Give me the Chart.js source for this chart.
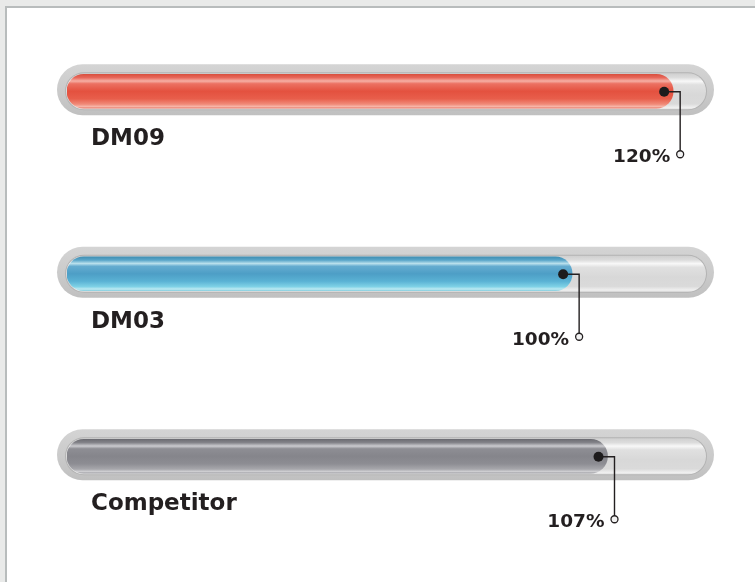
<!DOCTYPE html>
<html>
<head>
<meta charset="utf-8">
<script src="https://cdn.jsdelivr.net/npm/chart.js@4/dist/chart.umd.min.js"></script>
<style>
  html, body { margin: 0; padding: 0; }
  body { width: 755px; height: 582px; background: #e9eae9; position: relative; overflow: hidden; }
  .panel {
    position: absolute; left: 5px; top: 6px; right: 0; bottom: 0;
    background: #fff; border-left: 2px solid #b8bcbc; border-top: 2px solid #b8bcbc;
  }
  .wrap { position: absolute; left: 0; top: 0; width: 755px; height: 582px; }
</style>
</head>
<body>
<div class="panel"></div>
<div class="wrap"><canvas id="progressChart"></canvas></div>
<script>
const categories = ['DM09', 'DM03', 'Competitor'];
const values = [120, 100, 107];
const valueLabels = ['120%', '100%', '107%'];

// glossy fills, top to bottom
const fillStops = [
    ['#d9503f', '#e8675a', '#f6b0a5', '#ec7162', '#e4513f', '#e85e4b', '#f08a78', '#f7b5a8', '#e87c6b'],
    ['#3f8fb3', '#5aa6c9', '#b9e0ec', '#65acd0', '#4d9ec6', '#5ab2d4', '#7fd2e6', '#bdeaf2', '#8ad0e0'],
    ['#6c6c72', '#838389', '#cbcbcf', '#8e8e94', '#85858b', '#8d8d93', '#a7a7ac', '#cfcfd2', '#a0a0a5']
];
const stopPos = [0, 0.1, 0.2, 0.28, 0.5, 0.72, 0.88, 0.95, 1];

const BAR_H = 34;
const FONT = '"DejaVu Sans", sans-serif';

function roundRect(ctx, x, y, w, h, r) {
    ctx.beginPath();
    ctx.moveTo(x + r, y);
    ctx.lineTo(x + w - r, y);
    ctx.arc(x + w - r, y + r, r, -Math.PI / 2, Math.PI / 2);
    ctx.lineTo(x + r, y + h);
    ctx.arc(x + r, y + r, r, Math.PI / 2, Math.PI * 1.5);
    ctx.closePath();
}

function barFill(context) {
    const chart = context.chart;
    const yScale = chart.scales.y;
    if (!chart.chartArea || !yScale) return fillStops[context.dataIndex][4];
    const cy = yScale.getPixelForValue(context.dataIndex);
    const g = chart.ctx.createLinearGradient(0, cy - BAR_H / 2, 0, cy + BAR_H / 2);
    fillStops[context.dataIndex].forEach((c, i) => g.addColorStop(stopPos[i], c));
    return g;
}

// tube behind each bar
const trackPlugin = {
    id: 'track',
    beforeDatasetsDraw(chart) {
        const ctx = chart.ctx;
        const x0 = chart.scales.x.getPixelForValue(chart.scales.x.min);
        const x1 = chart.scales.x.getPixelForValue(chart.scales.x.max);
        chart.getDatasetMeta(0).data.forEach(bar => {
            const c = bar.y;
            ctx.save();
            // outer ring
            let g = ctx.createLinearGradient(0, c - 27, 0, c + 24);
            g.addColorStop(0, '#d4d4d4');
            g.addColorStop(0.5, '#cbcbcb');
            g.addColorStop(1, '#c0c0c0');
            ctx.fillStyle = g;
            roundRect(ctx, x0 - 10, c - 27, (x1 - x0) + 18, 51, 25.5);
            ctx.fill();
            // inner rim
            ctx.fillStyle = '#b3b3b3';
            roundRect(ctx, x0 - 2, c - 19, (x1 - x0) + 3, 38, 19);
            ctx.fill();
            // inner glass
            g = ctx.createLinearGradient(0, c - 18, 0, c + 18);
            g.addColorStop(0, '#cfcfcf');
            g.addColorStop(0.12, '#dcdcdc');
            g.addColorStop(0.22, '#f8f8f8');
            g.addColorStop(0.32, '#e0e0e0');
            g.addColorStop(0.6, '#d8d8d8');
            g.addColorStop(0.85, '#dadada');
            g.addColorStop(0.95, '#efefef');
            g.addColorStop(1, '#e2e2e2');
            ctx.fillStyle = g;
            roundRect(ctx, x0 - 1, c - 18, (x1 - x0) + 1, 36, 18);
            ctx.fill();
            ctx.restore();
        });
    }
};

// names, leader lines and percent labels
const labelPlugin = {
    id: 'labels',
    afterDatasetsDraw(chart) {
        const ctx = chart.ctx;
        chart.getDatasetMeta(0).data.forEach((bar, i) => {
            const c = bar.y;
            const end = bar.x;
            const dotX = end - 9;
            const lx = end + 7;
            const ly = c + 63;
            ctx.save();
            ctx.strokeStyle = '#231f20';
            ctx.lineWidth = 1.4;
            ctx.beginPath();
            ctx.moveTo(dotX, c + 0.5);
            ctx.lineTo(lx, c + 0.5);
            ctx.lineTo(lx, ly - 3.5);
            ctx.stroke();
            ctx.fillStyle = '#1d1b1c';
            ctx.beginPath();
            ctx.arc(dotX, c + 0.5, 5, 0, Math.PI * 2);
            ctx.fill();
            ctx.fillStyle = '#f2f2f2';
            ctx.lineWidth = 1.3;
            ctx.beginPath();
            ctx.arc(lx, ly, 3.5, 0, Math.PI * 2);
            ctx.fill();
            ctx.stroke();

            ctx.fillStyle = '#231f20';
            ctx.textBaseline = 'alphabetic';
            ctx.font = 'bold 18.5px ' + FONT;
            ctx.textAlign = 'right';
            ctx.fillText(valueLabels[i], lx - 10, c + 71);

            ctx.font = 'bold 23px ' + FONT;
            ctx.textAlign = 'left';
            ctx.fillText(categories[i], 91, c + 54);
            ctx.restore();
        });
    }
};

const ctx = document.getElementById('progressChart').getContext('2d');
const progressChart = new Chart(ctx, {
    type: 'bar',
    data: {
        labels: categories,
        datasets: [
            {
                label: 'Score',
                data: values,
                backgroundColor: barFill,
                borderWidth: 0,
                borderRadius: BAR_H / 2,
                borderSkipped: false,
                barThickness: BAR_H
            }
        ]
    },
    options: {
        indexAxis: 'y',
        responsive: true,
        maintainAspectRatio: false,
        animation: false,
        layout: {
            padding: { left: 67, right: 49, top: 0, bottom: 34.5 }
        },
        plugins: {
            legend: { display: false },
            tooltip: { enabled: false }
        },
        scales: {
            x: { type: 'linear', min: 0, max: 126.5, display: false },
            y: { display: false }
        }
    },
    plugins: [trackPlugin, labelPlugin]
});
</script>
</body>
</html>
